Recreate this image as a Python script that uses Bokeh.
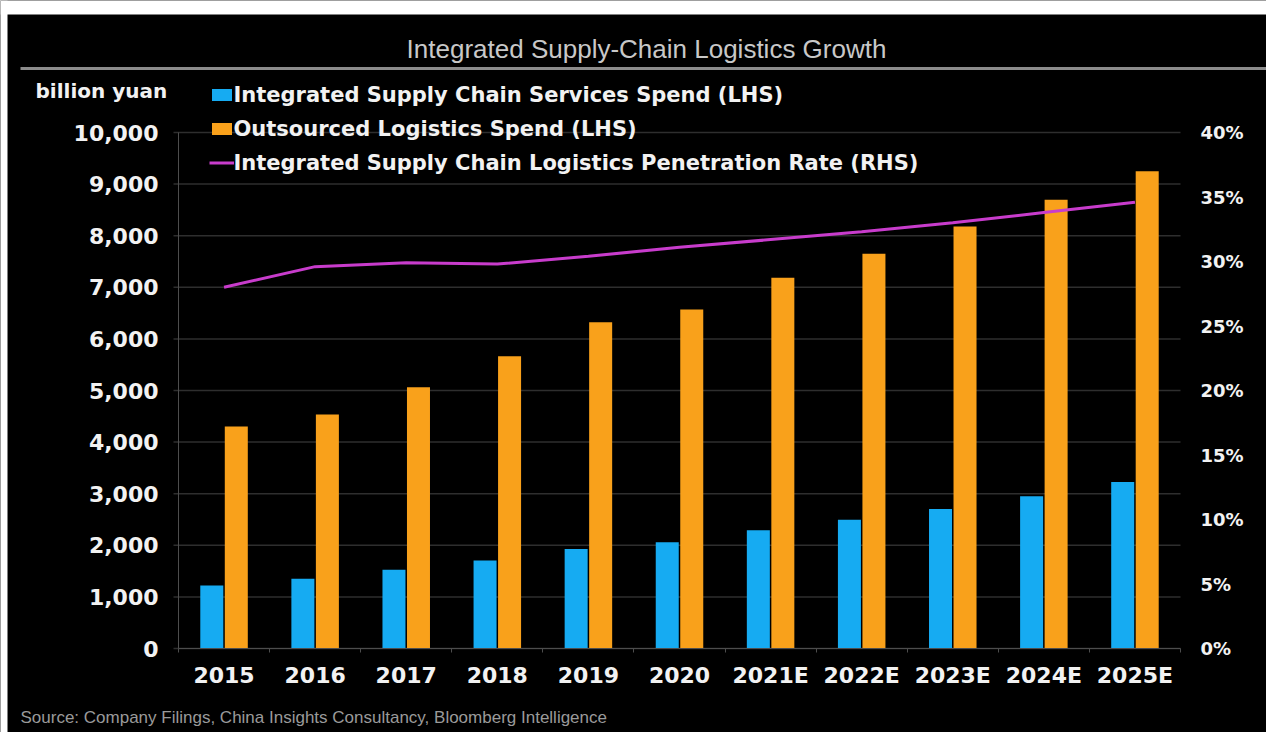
from bokeh.plotting import figure
from bokeh.models import (Range1d, LinearAxis, FixedTicker, NumeralTickFormatter,
                          PrintfTickFormatter, Legend, LegendItem, Label,
                          BoxAnnotation, ColumnDataSource)
from bokeh.transform import dodge
from bokeh.embed import file_html
from bokeh.resources import INLINE

years = ["2015", "2016", "2017", "2018", "2019", "2020",
         "2021E", "2022E", "2023E", "2024E", "2025E"]
services_spend = [1220, 1350, 1525, 1705, 1930, 2060, 2290, 2495, 2705, 2950, 3225]
outsourced_spend = [4300, 4535, 5065, 5665, 6325, 6570, 7185, 7650, 8180, 8695, 9250]
penetration_rate = [28.0, 29.6, 29.9, 29.8, 30.4, 31.1, 31.7, 32.3, 33.0, 33.8, 34.6]
left_ticks = [0, 1000, 2000, 3000, 4000, 5000, 6000, 7000, 8000, 9000, 10000]
right_ticks = [0, 5, 10, 15, 20, 25, 30, 35, 40]

BLUE = "#16abf2"
ORANGE = "#f9a11b"
MAGENTA = "#c83ccc"
FONT = "DejaVu Sans"
W, H = 1266, 732

idx = list(range(len(years)))
src = ColumnDataSource(dict(x=idx, services=services_spend,
                            outsourced=outsourced_spend, rate=penetration_rate))

# pixel layout of the plotting area (page coordinates)
px_left, px_right, px_top, px_bottom = 178.0, 1180.0, 132.0, 648.0
step = (px_right - px_left) / len(years)
ppu = (px_bottom - px_top) / 10000.0
x0 = -0.5 - px_left / step
x1 = -0.5 + (W - px_left) / step
y1 = px_bottom / ppu
y0 = -(H - px_bottom) / ppu

p = figure(x_range=Range1d(x0, x1), y_range=Range1d(y0, y1),
           x_axis_type=None, y_axis_type=None,
           width=W, height=H, output_backend="svg", toolbar_location=None,
           min_border=0, min_border_left=0, min_border_right=0,
           min_border_top=0, min_border_bottom=0,
           background_fill_color="black", border_fill_color="black",
           outline_line_color=None)
p.extra_y_ranges = {"rate": Range1d(y0 / 250.0, y1 / 250.0)}

n = len(years)
# horizontal grid lines at the left-axis ticks
p.segment(x0=[-0.5 - 5 / step] * len(left_ticks), x1=[n - 0.5] * len(left_ticks),
          y0=left_ticks, y1=left_ticks, line_color="#2e2e2e", line_width=1.5)

r1 = p.vbar(x=dodge("x", -0.1345), top="services", width=0.2526,
            source=src, fill_color=BLUE, line_color=None)
r2 = p.vbar(x=dodge("x", 0.1345), top="outsourced", width=0.2526,
            source=src, fill_color=ORANGE, line_color=None)
r3 = p.line(x="x", y="rate", y_range_name="rate", source=src,
            line_color=MAGENTA, line_width=3)

# left axis
ya = LinearAxis(fixed_location=-0.5, bounds=(0, 10000),
                ticker=FixedTicker(ticks=left_ticks),
                formatter=NumeralTickFormatter(format="0,0"))
ya.axis_line_color = "#4d4d4d"
ya.major_tick_line_color = None
ya.major_tick_out = 0
ya.major_tick_in = 0
ya.minor_tick_line_color = None
ya.major_label_standoff = 20
ya.major_label_text_color = "#f2f2f2"
ya.major_label_text_font = FONT
ya.major_label_text_font_style = "bold"
ya.major_label_text_font_size = "22px"
p.add_layout(ya, "left")

# right axis
ra = LinearAxis(y_range_name="rate", fixed_location=n - 0.5, bounds=(0, 40),
                ticker=FixedTicker(ticks=right_ticks),
                formatter=PrintfTickFormatter(format="%d%%"))
ra.axis_line_color = None
ra.major_tick_line_color = None
ra.minor_tick_line_color = None
ra.major_tick_out = 0
ra.major_tick_in = 0
ra.major_label_standoff = 20
ra.major_label_text_color = "#f2f2f2"
ra.major_label_text_font = FONT
ra.major_label_text_font_style = "bold"
ra.major_label_text_font_size = "18px"
p.add_layout(ra, "right")

# x axis
xa = LinearAxis(fixed_location=0, bounds=(-0.5, n - 0.5),
                ticker=FixedTicker(ticks=idx, minor_ticks=[i - 0.5 for i in range(n + 1)]),
                major_label_overrides={i: y for i, y in zip(idx, years)})
xa.axis_line_color = "#4d4d4d"
xa.major_tick_line_color = None
xa.major_tick_out = 0
xa.major_tick_in = 0
xa.minor_tick_line_color = "#4d4d4d"
xa.minor_tick_out = 4
xa.minor_tick_in = 0
xa.major_label_standoff = 10
xa.major_label_text_color = "#f2f2f2"
xa.major_label_text_font = FONT
xa.major_label_text_font_style = "bold"
xa.major_label_text_font_size = "22px"
p.add_layout(xa, "below")

legend = Legend(items=[
    LegendItem(label="Integrated Supply Chain Services Spend (LHS)", renderers=[r1]),
    LegendItem(label="Outsourced Logistics Spend (LHS)", renderers=[r2]),
    LegendItem(label="Integrated Supply Chain Logistics Penetration Rate (RHS)", renderers=[r3]),
], location=(208.5, H - 174.5), orientation="vertical",
    background_fill_alpha=0, border_line_color=None,
    label_text_color="#f2f2f2", label_text_font=FONT, label_text_font_style="bold",
    label_text_font_size="21px", glyph_width=25, glyph_height=15,
    label_standoff=0, spacing=10, padding=0, margin=0)
p.add_layout(legend)

# white page strip at top and left like the screenshot
p.add_layout(BoxAnnotation(bottom=H - 14, bottom_units="screen",
                           fill_color="white", fill_alpha=1.0, line_color=None))
p.add_layout(BoxAnnotation(right=7, right_units="screen",
                           fill_color="white", fill_alpha=1.0, line_color=None))

# separator under the title
p.add_layout(BoxAnnotation(left=20, right=W, bottom=H - 69.5, top=H - 66.5,
                           left_units="screen", right_units="screen",
                           bottom_units="screen", top_units="screen",
                           fill_color="#8c8c8c", fill_alpha=1.0, line_color=None))

p.add_layout(Label(x=646, y=H - 48, x_units="screen", y_units="screen",
                   text="Integrated Supply-Chain Logistics Growth",
                   text_align="center", text_baseline="middle",
                   text_font="Liberation Sans", text_font_size="26px",
                   text_color="#c8c8c8"))

p.add_layout(Label(x=35, y=H - 90, x_units="screen", y_units="screen",
                   text="billion yuan", text_align="left", text_baseline="middle",
                   text_font=FONT, text_font_style="bold", text_font_size="20px",
                   text_color="#f2f2f2"))

p.add_layout(Label(x=20, y=H - 707, x_units="screen", y_units="screen",
                   text="Source: Company Filings, China Insights Consultancy, Bloomberg Intelligence",
                   text_align="left", text_baseline="top",
                   text_font="Liberation Sans", text_font_size="17px",
                   text_color="#9a9a9a"))

open("out.html", "w").write(file_html(p, INLINE))
